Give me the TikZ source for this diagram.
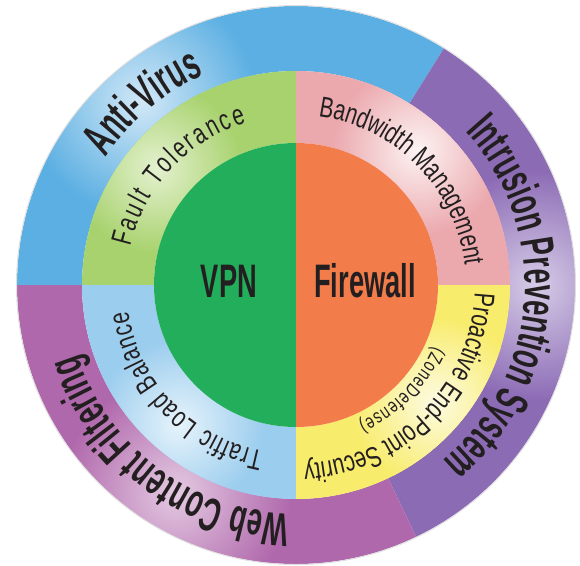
\documentclass[tikz,border=0pt]{standalone}
\usepackage{fontspec}
\setmainfont{Liberation Sans}
\newfontfamily\condbold{Liberation Sans}[FakeStretch=0.58]
\newfontfamily\condreg{Liberation Sans}[FakeStretch=0.72]
\usetikzlibrary{decorations.text}

\definecolor{ink}{HTML}{231F20}
\definecolor{avblue}{HTML}{5BAFE2}
\definecolor{avlight}{HTML}{D2E8F7}
\definecolor{ipspurple}{HTML}{8C6BB5}
\definecolor{ipslight}{HTML}{D6CCE7}
\definecolor{webpink}{HTML}{B068AC}
\definecolor{weblight}{HTML}{E4CAE2}
\definecolor{ftgreen}{HTML}{A8D26E}
\definecolor{ftlight}{HTML}{E4F1CF}
\definecolor{bwpink}{HTML}{EBA9AE}
\definecolor{bwlight}{HTML}{FDF3F3}
\definecolor{pesyellow}{HTML}{F8EC6C}
\definecolor{peslight}{HTML}{FDFBE2}
\definecolor{tlbblue}{HTML}{9BCDEE}
\definecolor{tlblight}{HTML}{E6F3FB}
\definecolor{vpngreen}{HTML}{22AE5B}
\definecolor{fworange}{HTML}{F37C4B}

\newcommand{\outerfont}{\condbold\bfseries\fontsize{47}{50}\selectfont\color{ink}}
\newcommand{\ringfont}{\condreg\fontsize{29}{31}\selectfont\color{ink}}
\newcommand{\smallfont}{\condreg\fontsize{20}{22}\selectfont\color{ink}}

\begin{document}
\begin{tikzpicture}[
    x=1pt, y=1pt,
    ringtext/.style={decorate, decoration={text along path, text={#1}, text align=center}},
    fittext/.style={decorate, decoration={text along path, text={#1}, text align={fit to path}}},
    coretext/.style={font=\outerfont, inner sep=0pt, anchor=base}
  ]
  \useasboundingbox (-296pt,-280pt) rectangle (284pt,285pt);

  % Outer ring
  \foreach \a/\b/\base/\light/\spot in {58/180/avblue/avlight/130,
      -64.5/58/ipspurple/ipslight/0, 180/295.5/webpink/weblight/240} {
    \begin{scope}
      \clip (\a:214pt) arc[start angle=\a, end angle=\b, radius=214pt]
        -- (\b:279pt) arc[start angle=\b, end angle=\a, radius=279pt] -- cycle;
      \fill[\base] (0,0) circle (280pt);
      \shade[inner color=\light, outer color=\base] (\spot:240pt) circle (115pt);
    \end{scope}
  }
  \draw[gray!25, line width=1pt] (0,0) circle (279.5pt);

  % Middle ring
  \foreach \a/\base/\light/\spot in {90/ftgreen/ftlight/140, 0/bwpink/bwlight/48,
      180/tlbblue/tlblight/230, 270/pesyellow/peslight/-40} {
    \begin{scope}
      \clip (\a:142pt) arc[start angle=\a, end angle=\a+90, radius=142pt]
        -- (\a+90:214pt) arc[start angle=\a+90, end angle=\a, radius=214pt] -- cycle;
      \fill[\base] (0,0) circle (215pt);
      \shade[inner color=\light, outer color=\base] (\spot:182pt) circle (85pt);
    \end{scope}
  }

  % Core
  \fill[vpngreen] (90:142pt) arc[start angle=90, end angle=270, radius=142pt] -- cycle;
  \fill[fworange] (-90:142pt) arc[start angle=-90, end angle=90, radius=142pt] -- cycle;
  \node[coretext] (vpn) at (-67pt,-12pt) {VPN};
  \node[coretext] (firewall) at (69pt,-12pt) {Firewall};

  % Outer labels
  \path[ringtext={|\outerfont|Anti-Virus}] (190:229pt) arc[start angle=190, end angle=70, radius=229pt];
  \path[ringtext={|\outerfont|Intrusion Prevention System}] (56:229pt) arc[start angle=56, end angle=-64, radius=229pt];
  \path[ringtext={|\outerfont|Web Content Filtering}] (293:229pt) arc[start angle=293, end angle=173, radius=229pt];

  % Middle labels
  \path[fittext={|\ringfont|Fault Tolerance}] (167:170pt) arc[start angle=167, end angle=107, radius=170pt];
  \path[ringtext={|\ringfont|Bandwidth Management}] (100:170pt) arc[start angle=100, end angle=-11, radius=170pt];
  \path[fittext={|\ringfont|Traffic Load Balance}] (259:170pt) arc[start angle=259, end angle=189, radius=170pt];
  \path[ringtext={|\ringfont|Proactive End-Point Security}] (10:179pt) arc[start angle=10, end angle=-100, radius=179pt];
  \path[fittext={|\smallfont|(ZoneDefense)}] (-24:151pt) arc[start angle=-24, end angle=-65.5, radius=151pt];
\end{tikzpicture}
\end{document}
